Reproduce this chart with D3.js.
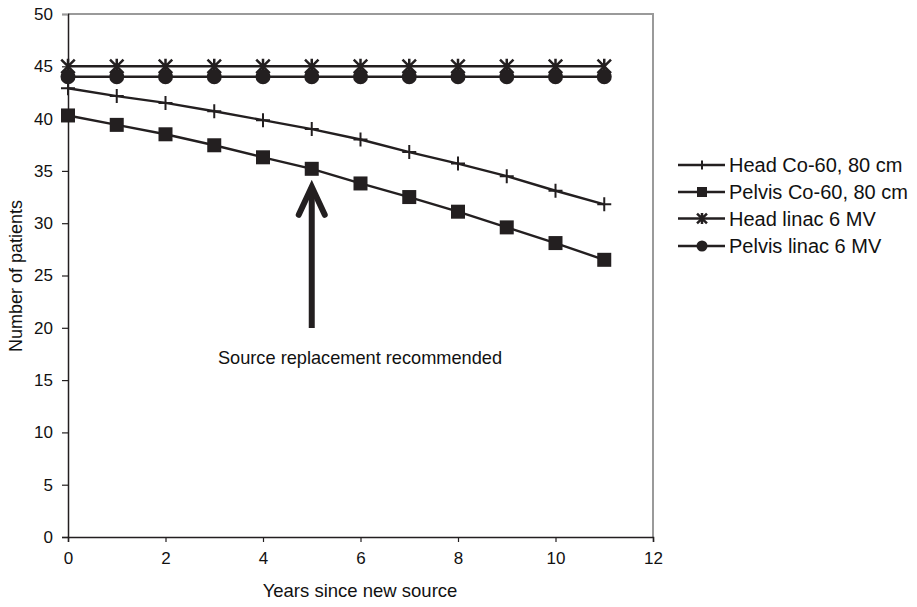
<!DOCTYPE html>
<html><head><meta charset="utf-8">
<script src="https://cdn.jsdelivr.net/npm/d3@7"></script>
<style>body{margin:0;background:#fff}svg{display:block;font-family:"Liberation Sans",Arial,sans-serif}</style>
</head><body><svg id="c" width="917" height="607"></svg>
<script>
const years = [0,1,2,3,4,5,6,7,8,9,10,11];
const headCo60 = [42.9,42.15,41.5,40.7,39.85,39.0,38.0,36.8,35.7,34.5,33.1,31.8];
const pelvisCo60 = [40.3,39.4,38.5,37.45,36.3,35.2,33.8,32.5,31.1,29.6,28.1,26.5];
const headLinac = [45,45,45,45,45,45,45,45,45,45,45,45];
const pelvisLinac = [44,44,44,44,44,44,44,44,44,44,44,44];
const seriesNames = ["Head Co-60, 80 cm","Pelvis Co-60, 80 cm","Head linac 6 MV","Pelvis linac 6 MV"];
const seriesMarkers = ["plus","square","star","circle"];
const xTicks = [0,2,4,6,8,10,12];
const yTicks = [0,5,10,15,20,25,30,35,40,45,50];
const annotationText = "Source replacement recommended";
const annotationYear = 5;
const xTitle = "Years since new source";
const yTitle = "Number of patients";

const ink = "#231f20";
const svg = d3.select("#c");
const x = d3.scaleLinear().domain([0,12]).range([68,653]);
const y = d3.scaleLinear().domain([0,50]).range([537,14]);

// frame (top/right gray)
svg.append("path").attr("d",`M${x(0)},${y(50)}H${x(12)}V${y(0)}`).attr("fill","none").attr("stroke","#9a9a9a").attr("stroke-width",2);

// axes
const yAxis = svg.append("g").attr("transform",`translate(${x(0)},0)`)
  .call(d3.axisLeft(y).tickValues(yTicks).tickSize(6).tickPadding(9));
const xAxis = svg.append("g").attr("transform",`translate(0,${y(0)})`)
  .call(d3.axisBottom(x).tickValues(xTicks).tickSize(5).tickPadding(10));
[yAxis,xAxis].forEach(a=>{
  a.attr("font-size",17).attr("font-family","Liberation Sans, Arial, sans-serif");
  a.select(".domain").attr("stroke",ink).attr("stroke-width",1.5);
  a.selectAll(".tick line").attr("stroke",ink).attr("stroke-width",1.2);
  a.selectAll("text").attr("fill","#111");
});
yAxis.selectAll(".tick").filter(d=>d===50).select("line").attr("stroke","#9a9a9a");

// titles
svg.append("text").attr("x",360).attr("y",597).attr("text-anchor","middle").attr("font-size",18.5).attr("fill","#111").text(xTitle);
svg.append("text").attr("transform","translate(22,276) rotate(-90)").attr("text-anchor","middle").attr("font-size",18).attr("fill","#111").text(yTitle);

// markers
function drawMarker(g, type, cx, cy, s){
  if(type==="plus"){
    g.append("path").attr("d",`M${cx-s/2},${cy}H${cx+s/2}M${cx},${cy-s/2}V${cy+s/2}`).attr("stroke",ink).attr("stroke-width",2);
  } else if(type==="square"){
    g.append("rect").attr("x",cx-s/2).attr("y",cy-s/2).attr("width",s).attr("height",s).attr("fill",ink);
  } else if(type==="circle"){
    g.append("circle").attr("cx",cx).attr("cy",cy).attr("r",s/2).attr("fill",ink);
  } else if(type==="star"){
    const h=s/2, d=s*0.45;
    g.append("path").attr("d",`M${cx-d},${cy-d}L${cx+d},${cy+d}M${cx+d},${cy-d}L${cx-d},${cy+d}M${cx},${cy-h}V${cy+h}`).attr("stroke",ink).attr("stroke-width",2.5);
  }
}

const allSeries = [headCo60,pelvisCo60,headLinac,pelvisLinac];
const sizes = {plus:14, square:14, star:15, circle:15};
const line = d3.line().x((d,i)=>x(years[i])).y(d=>y(d));
allSeries.forEach((vals,k)=>{
  const g = svg.append("g");
  g.append("path").attr("d",line(vals)).attr("fill","none").attr("stroke",ink).attr("stroke-width",2.4);
  vals.forEach((v,i)=>drawMarker(g, seriesMarkers[k], x(years[i]), y(v), sizes[seriesMarkers[k]]));
});

// annotation arrow
const ax = x(annotationYear);
const tipY = y(pelvisCo60[annotationYear]) + 16;
const arr = svg.append("g");
arr.append("path").attr("d",`M${ax},328V${tipY+3}`).attr("stroke",ink).attr("stroke-width",6).attr("fill","none");
arr.append("path").attr("d",`M${ax-13},${tipY+30}L${ax},${tipY+2}L${ax+13},${tipY+30}`).attr("stroke",ink).attr("stroke-width",6).attr("stroke-linecap","round").attr("stroke-linejoin","miter").attr("fill","none");
svg.append("text").attr("x",360).attr("y",364).attr("text-anchor","middle").attr("font-size",18.2).attr("fill","#111").text(annotationText);

// legend
const legY = [165,192,218.5,246];
const legSizes = {plus:9, square:10, star:11, circle:11};
seriesNames.forEach((n,k)=>{
  const g = svg.append("g");
  g.append("line").attr("x1",678).attr("x2",725).attr("y1",legY[k]).attr("y2",legY[k]).attr("stroke",ink).attr("stroke-width",2.4);
  drawMarker(g, seriesMarkers[k], 702, legY[k], legSizes[seriesMarkers[k]]);
  g.append("text").attr("x",729).attr("y",legY[k]).attr("dy","0.36em").attr("font-size",20).attr("fill","#111").text(n);
});
</script></body></html>
